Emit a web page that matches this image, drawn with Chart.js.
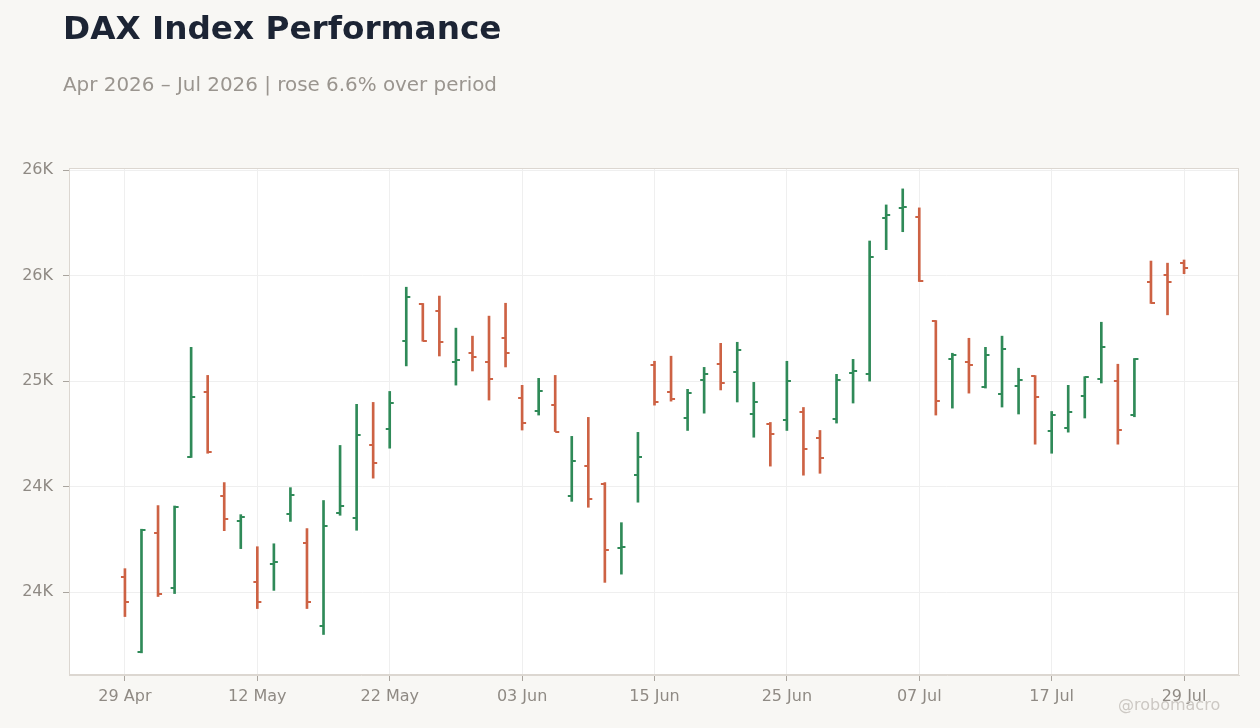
<!DOCTYPE html>
<html>
<head>
<meta charset="utf-8">
<title>DAX Index Performance</title>
<script src="https://cdn.jsdelivr.net/npm/chart.js@4.4.1/dist/chart.umd.min.js"></script>
<style>
  html, body { margin: 0; padding: 0; background: #f8f7f4; }
  #wrap { position: relative; width: 1260px; height: 728px; overflow: hidden; font-family: "DejaVu Sans", sans-serif; }
  #ohlc { position: absolute; left: 0; top: 0; }
  .title { position: absolute; left: 63px; top: 12px; font-size: 32.7px; line-height: 33px; font-weight: bold; color: #1c2434; white-space: nowrap; }
  .subtitle { position: absolute; left: 63px; top: 75px; font-size: 19.9px; line-height: 20px; color: #9a958f; white-space: nowrap; }
  .credit { position: absolute; left: 1118px; top: 697px; font-size: 16px; line-height: 16px; color: #ccc8c3; white-space: nowrap; }
</style>
</head>
<body>
<div id="wrap">
  <canvas id="ohlc" width="1260" height="728"></canvas>
  <div class="title">DAX Index Performance</div>
  <div class="subtitle">Apr 2026 – Jul 2026 | rose 6.6% over period</div>
  <div class="credit">@robomacro</div>
</div>
<script>
// trading days shown on the x axis
const dates = [
  '29 Apr', '30 Apr',
  '04 May', '05 May', '06 May', '07 May', '08 May',
  '11 May', '12 May', '13 May', '14 May', '15 May',
  '18 May', '19 May', '20 May', '21 May', '22 May',
  '25 May', '26 May', '27 May', '28 May', '29 May',
  '01 Jun', '02 Jun', '03 Jun', '04 Jun', '05 Jun',
  '08 Jun', '09 Jun', '10 Jun', '11 Jun', '12 Jun',
  '15 Jun', '16 Jun', '17 Jun', '18 Jun', '19 Jun',
  '22 Jun', '23 Jun', '24 Jun', '25 Jun', '26 Jun',
  '29 Jun', '30 Jun', '01 Jul', '02 Jul', '03 Jul',
  '06 Jul', '07 Jul', '08 Jul', '09 Jul', '10 Jul',
  '13 Jul', '14 Jul', '15 Jul', '16 Jul', '17 Jul',
  '20 Jul', '21 Jul', '22 Jul', '23 Jul', '24 Jul',
  '27 Jul', '28 Jul', '29 Jul'
];

const opens = [
  24073, 23717, 24278, 24017, 24640, 24948, 24454, 24335, 24050, 24131,
  24369, 24231, 23837, 24373, 24350, 24696, 24772, 25190, 25366, 25333,
  25091, 25133, 25091, 25205, 24920, 24858, 24886, 24454, 24597, 24511,
  24207, 24554, 25076, 24948, 24823, 25005, 25081, 25043, 24844, 24796,
  24815, 24853, 24730, 24820, 25037, 25034, 25775, 25822, 25779, 25286,
  25105, 25091, 24972, 24939, 24977, 25023, 24763, 24777, 24929, 25010,
  25000, 24839, 25471, 25504, 25561
];
const highs = [
  24111, 24298, 24410, 24408, 25160, 25027, 24519, 24367, 24215, 24229,
  24495, 24301, 24434, 24695, 24890, 24899, 24951, 25445, 25368, 25403,
  25251, 25213, 25308, 25369, 24980, 25013, 25027, 24738, 24828, 24519,
  24329, 24757, 25094, 25118, 24961, 25065, 25179, 25184, 24994, 24804,
  25094, 24875, 24766, 25032, 25103, 25664, 25835, 25911, 25821, 25287,
  25132, 25203, 25160, 25213, 25061, 25026, 24856, 24980, 25021, 25279,
  25080, 25107, 25569, 25559, 25574
];
const lows = [
  23884, 23712, 23979, 23993, 24638, 24658, 24291, 24206, 23922, 24008,
  24335, 23922, 23799, 24364, 24293, 24540, 24682, 25072, 25189, 25119,
  24981, 25048, 24910, 25067, 24768, 24839, 24761, 24430, 24402, 24046,
  24085, 24426, 24886, 24905, 24766, 24848, 24958, 24901, 24734, 24597,
  24766, 24554, 24563, 24801, 24896, 25000, 25623, 25708, 25472, 24839,
  24872, 24943, 24967, 24877, 24844, 24701, 24658, 24758, 24825, 24991,
  24701, 24831, 25368, 25314, 25509
];
const closes = [
  23954, 24295, 23992, 24405, 24923, 24666, 24345, 24354, 23955, 24141,
  24459, 23955, 24312, 24407, 24744, 24611, 24896, 25399, 25189, 25186,
  25100, 25113, 25010, 25133, 24801, 24953, 24761, 24620, 24440, 24198,
  24212, 24639, 24901, 24915, 24943, 25034, 24991, 25148, 24901, 24749,
  25000, 24677, 24635, 25005, 25048, 25589, 25789, 25827, 25474, 24905,
  25124, 25076, 25124, 25152, 25005, 24924, 24839, 24853, 25019, 25162,
  24766, 25107, 25371, 25471, 25537
];

const yTicks = [24000, 24500, 25000, 25500, 26000];
const labelStep = 8;

const UP = '#2f8a58';
const DOWN = '#cd6244';
const TICK_TEXT = '#8f8a84';
const GRID = '#efefef';
const FRAME = '#dcd7d1';

const isUp = opens.map((o, i) => closes[i] >= o);

// little open/close flags, drawn as point images so the library places them
function flag(color, side) {
  const c = document.createElement('canvas');
  c.width = 10;
  c.height = 2;
  const g = c.getContext('2d');
  g.fillStyle = color;
  if (side === 'left') g.fillRect(1, 0, 4, 2);
  else g.fillRect(5, 0, 4, 2);
  return c;
}
const flags = {
  upLeft: flag(UP, 'left'), upRight: flag(UP, 'right'),
  downLeft: flag(DOWN, 'left'), downRight: flag(DOWN, 'right')
};

// banker's rounding so labels read like the original (24.5K -> 24K)
function kLabel(v) {
  const k = v / 1000;
  const f = Math.floor(k);
  const d = k - f;
  let r;
  if (Math.abs(d - 0.5) < 1e-9) r = (f % 2 === 0) ? f : f + 1;
  else r = Math.round(k);
  return r + 'K';
}

const plotFrame = {
  id: 'plotFrame',
  beforeDraw(chart) {
    const { ctx, chartArea: a } = chart;
    ctx.save();
    ctx.fillStyle = '#ffffff';
    ctx.fillRect(a.left, a.top, a.right - a.left, a.bottom - a.top);
    ctx.restore();
  },
  beforeDatasetsDraw(chart) {
    const { ctx, chartArea: a } = chart;
    ctx.save();
    ctx.strokeStyle = FRAME;
    ctx.lineWidth = 1;
    ctx.strokeRect(a.left + 0.5, a.top + 0.5, a.right - a.left - 1, a.bottom - a.top - 1);
    ctx.restore();
  }
};

const tickFont = { family: '"DejaVu Sans", sans-serif', size: 16 };

new Chart(document.getElementById('ohlc'), {
  type: 'bar',
  data: {
    datasets: [
      {
        type: 'bar',
        data: dates.map((d, i) => ({ x: i, y: [lows[i], highs[i]] })),
        backgroundColor: isUp.map(u => u ? UP : DOWN),
        barThickness: 2,
        borderWidth: 0,
        order: 2
      },
      {
        type: 'scatter',
        data: opens.map((v, i) => ({ x: i, y: v })),
        pointStyle: ctx => isUp[ctx.dataIndex] ? flags.upLeft : flags.downLeft,
        pointRadius: 3,
        order: 1
      },
      {
        type: 'scatter',
        data: closes.map((v, i) => ({ x: i, y: v })),
        pointStyle: ctx => isUp[ctx.dataIndex] ? flags.upRight : flags.downRight,
        pointRadius: 3,
        order: 1
      }
    ]
  },
  options: {
    responsive: false,
    animation: false,
    layout: { padding: { top: 168, right: 21, left: 0, bottom: 0 } },
    plugins: {
      legend: { display: false },
      tooltip: { enabled: false }
    },
    scales: {
      x: {
        type: 'linear',
        offset: false,
        min: -3.38,
        max: 67.32,
        afterBuildTicks: scale => {
          const t = [];
          for (let i = 0; i < dates.length; i += labelStep) t.push({ value: i });
          scale.ticks = t;
        },
        afterFit: scale => { scale.height = 53; },
        ticks: {
          autoSkip: false,
          maxRotation: 0,
          padding: 6,
          color: TICK_TEXT,
          font: tickFont,
          callback: v => dates[v]
        },
        grid: { offset: false, color: GRID, tickColor: '#a9a49e', tickLength: 6 },
        border: { color: FRAME }
      },
      y: {
        type: 'linear',
        min: 23607,
        max: 26010,
        afterBuildTicks: scale => { scale.ticks = yTicks.map(v => ({ value: v })); },
        afterFit: scale => { scale.width = 69; },
        ticks: {
          padding: 10,
          color: TICK_TEXT,
          font: tickFont,
          callback: v => kLabel(v)
        },
        grid: { color: GRID, tickColor: '#a9a49e', tickLength: 6 },
        border: { color: FRAME }
      }
    }
  },
  plugins: [plotFrame]
});
</script>
</body>
</html>
